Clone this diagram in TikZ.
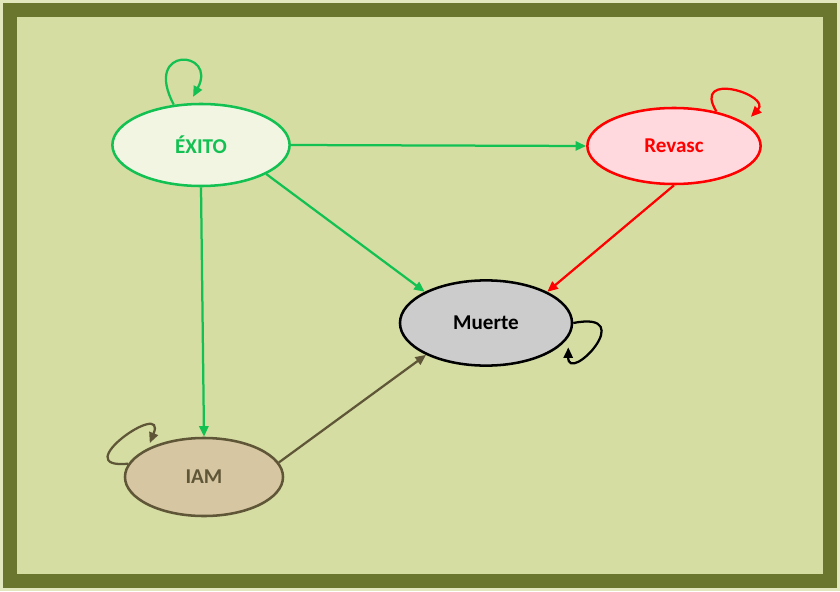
\documentclass[tikz,border=0pt]{standalone}
\usepackage{fontspec}
\setmainfont{Carlito}
\usetikzlibrary{shapes.geometric,arrows.meta}
\definecolor{bgfill}{HTML}{D5DDA3}
\definecolor{framecol}{HTML}{6A762E}
\definecolor{exgreen}{HTML}{12C152}
\definecolor{exfill}{HTML}{F1F5E2}
\definecolor{rvred}{HTML}{FF0000}
\definecolor{rvfill}{HTML}{FFD9DD}
\definecolor{mugray}{HTML}{CCCCCC}
\definecolor{iambrown}{HTML}{5F5637}
\definecolor{iamfill}{HTML}{D6C6A2}

\begin{document}
\begin{tikzpicture}[x=0.025cm,y=-0.025cm,
  state/.style={ellipse, line width=1.8pt, inner sep=0pt,
    font=\fontsize{15}{17}\selectfont\bfseries},
  trans/.style={line width=1.6pt, -{Triangle[length=7.5pt,width=6.5pt]}}]
  \useasboundingbox (0,0) rectangle (840,591);
  \fill[bgfill!70!white] (0,0) rectangle (840,591);
  \draw[framecol, fill=bgfill, line width=0.35cm] (10,10) rectangle (830,581);
  \node[state, draw=exgreen, fill=exfill, text=exgreen, minimum width=4.43cm, minimum height=2.05cm] (exito) at (201,145) {ÉXITO};
  \node[state, draw=rvred, fill=rvfill, text=rvred, minimum width=4.33cm, minimum height=1.9cm] (revasc) at (674,146) {Revasc};
  \node[state, draw=black, fill=mugray, text=black, minimum width=4.3cm, minimum height=2.13cm] (muerte) at (486,323) {Muerte};
  \node[state, draw=iambrown, fill=iamfill, text=iambrown, minimum width=3.95cm, minimum height=1.95cm] (iam) at (204,477) {IAM};
  % Draw the transitions
  \draw[trans, exgreen] (exito.east) -- (revasc.west);
  \draw[trans, exgreen] (exito.-24) -- (muerte.153);
  \draw[trans, exgreen] (exito.south) -- (iam.north);
  \draw[trans, rvred] (revasc.south) -- (muerte.27);
  \draw[trans, iambrown] (iam.11) -- (muerte.208);
  % Draw the self loops
  \draw[trans, exgreen, shorten >=5pt] (exito.124) .. controls (142,45) and (218,50) .. (exito.105);
  \draw[trans, rvred, shorten >=6pt] (revasc.39) .. controls (691,70) and (772,95) .. (revasc.18);
  \draw[trans, black, shorten >=7pt] (muerte.east) .. controls (640,310) and (568,385) .. (muerte.-10);
  \draw[trans, iambrown, shorten >=4pt] (iam.170) .. controls (65,470) and (168,398) .. (iam.153);
\end{tikzpicture}
\end{document}
